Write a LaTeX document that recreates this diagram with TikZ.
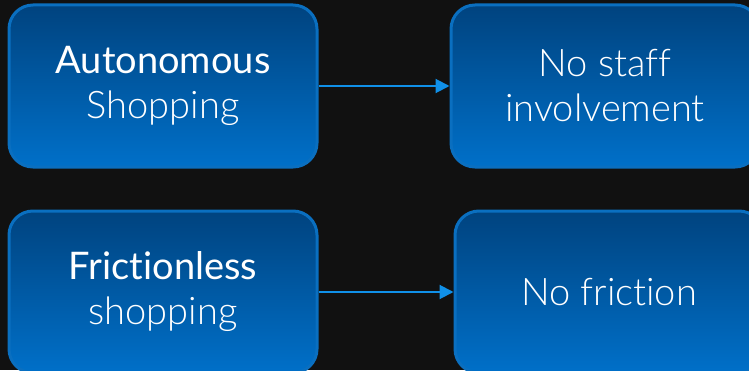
\documentclass[tikz,border=0pt]{standalone}
\usepackage{fontspec}
\setmainfont[Ligatures={NoCommon}]{Lato}
\newfontfamily\lightfont[Ligatures={NoCommon}]{Lato Light}
\usetikzlibrary{arrows.meta,positioning}
\definecolor{bgdark}{HTML}{111111}
\definecolor{boxtop}{HTML}{00437F}
\definecolor{boxbottom}{HTML}{0070C9}
\definecolor{boxedge}{HTML}{0A6FC0}
\definecolor{arrowblue}{HTML}{1090E8}
\tikzset{
	ideabox/.style={
			rounded corners=24pt, draw=boxedge, line width=3pt,
			top color=boxtop, bottom color=boxbottom,
			minimum width=308pt, minimum height=162pt, inner sep=0pt,
			text=white, align=center,
			font=\fontsize{38}{45}\selectfont
		},
	flow/.style={-{Triangle[length=14pt,width=14pt]}, arrowblue, line width=2pt}
}

\begin{document}
\begin{tikzpicture}
        % Background
        \fill[bgdark] (0,0) rectangle (749pt,370pt);
        \useasboundingbox (0,0) rectangle (749pt,370pt);

        % Top row
        \node[ideabox] (autonomous) at (163pt,284pt) {Autonomous\\\lightfont Shopping};
        \node[ideabox, right=131pt of autonomous] (nostaff) {\lightfont No staff\\\lightfont involvement};

        % Bottom row
        \node[ideabox, below=41pt of autonomous] (frictionless) {Frictionless\\\lightfont shopping};
        \node[ideabox, right=135pt of frictionless] (nofriction) {\lightfont No friction};

        % Arrows
        \draw[flow] (autonomous) -- (nostaff);
        \draw[flow] (frictionless) -- (nofriction);
    \end{tikzpicture}
\end{document}
